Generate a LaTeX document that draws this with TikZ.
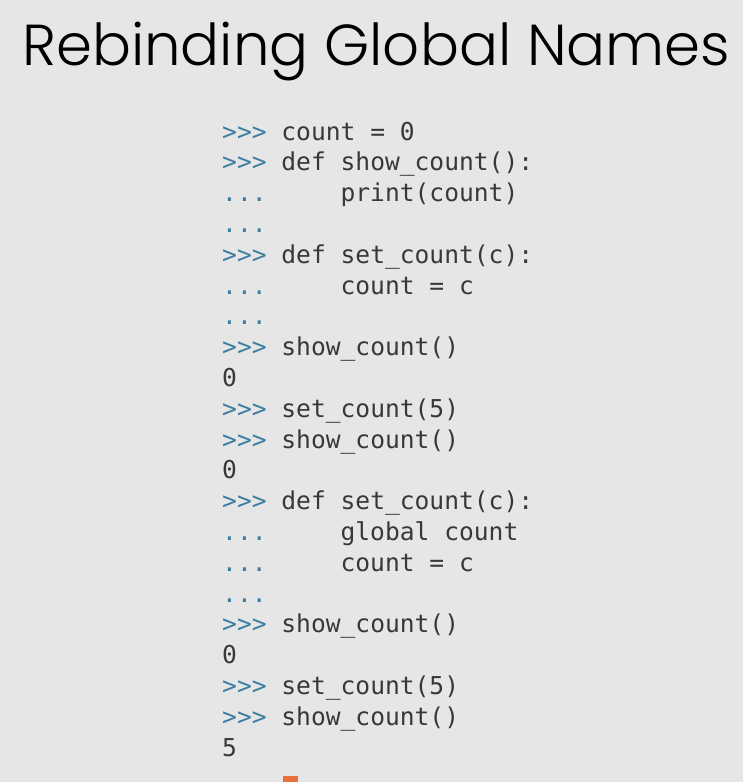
\documentclass[tikz,border=0pt]{standalone}
\usepackage{fontspec}
\setmainfont{Poppins}
\newfontfamily\codefont{DejaVu Sans Mono}
\newfontfamily\titlefont{Poppins Light}
\definecolor{bgc}{HTML}{E6E6E6}
\definecolor{codec}{HTML}{383838}
\definecolor{promptc}{HTML}{3B7EA1}
\definecolor{cursorc}{HTML}{E8703A}
\newcommand\pmta{>{}>{}>}
\newcommand\pmtd{.{}.{}.}
\tikzset{
  codeline/.style={anchor=base west, inner sep=0pt, text=codec, font=\codefont\fontsize{24.6pt}{30pt}\selectfont},
  promptline/.style={codeline, text=promptc},
  titletext/.style={anchor=base west, inner sep=0pt, text=black}
}
\begin{document}
\begin{tikzpicture}[x=1pt,y=-1pt]
\fill[bgc] (0,0) rectangle (743,782);
\useasboundingbox (0,0) rectangle (743,782);
\def\xz{222}
\def\cw{14.8}
\def\lsp{30.8}
\def\bz{140}
\node[titletext] (title) at (22,65) {\resizebox{708pt}{!}{\titlefont\fontsize{60pt}{70pt}\selectfont Rebinding Global Names}};
% prompts
\foreach \i/\p in {1/a,2/a,3/d,4/d,5/a,6/d,7/d,8/a,10/a,11/a,13/a,14/d,15/d,16/d,17/a,19/a,20/a}
  \node[promptline] (p\i) at (\xz,\bz+\lsp*\i-\lsp) {\csname pmt\p\endcsname};
% code
\node[codeline] (c1) at (\xz+4*\cw,\bz+0*\lsp) {count = 0};
\node[codeline] (c2) at (\xz+4*\cw,\bz+1*\lsp) {def show\_count():};
\node[codeline] (c3) at (\xz+8*\cw,\bz+2*\lsp) {print(count)};
\node[codeline] (c5) at (\xz+4*\cw,\bz+4*\lsp) {def set\_count(c):};
\node[codeline] (c6) at (\xz+8*\cw,\bz+5*\lsp) {count = c};
\node[codeline] (c8) at (\xz+4*\cw,\bz+7*\lsp) {show\_count()};
\node[codeline] (c9) at (\xz,\bz+8*\lsp) {0};
\node[codeline] (c10) at (\xz+4*\cw,\bz+9*\lsp) {set\_count(5)};
\node[codeline] (c11) at (\xz+4*\cw,\bz+10*\lsp) {show\_count()};
\node[codeline] (c12) at (\xz,\bz+11*\lsp) {0};
\node[codeline] (c13) at (\xz+4*\cw,\bz+12*\lsp) {def set\_count(c):};
\node[codeline] (c14) at (\xz+8*\cw,\bz+13*\lsp) {global count};
\node[codeline] (c15) at (\xz+8*\cw,\bz+14*\lsp) {count = c};
\node[codeline] (c17) at (\xz+4*\cw,\bz+16*\lsp) {show\_count()};
\node[codeline] (c18) at (\xz,\bz+17*\lsp) {0};
\node[codeline] (c19) at (\xz+4*\cw,\bz+18*\lsp) {set\_count(5)};
\node[codeline] (c20) at (\xz+4*\cw,\bz+19*\lsp) {show\_count()};
\node[codeline] (c21) at (\xz,\bz+20*\lsp) {5};
\fill[cursorc] (283,776) rectangle (298,790);
\end{tikzpicture}
\end{document}
